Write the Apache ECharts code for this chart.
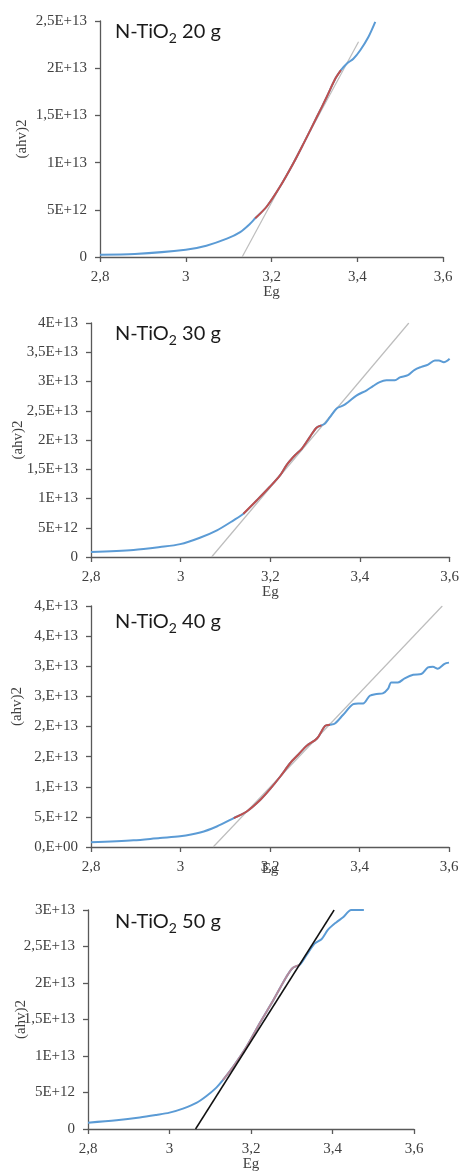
<!DOCTYPE html>
<html>
<head>
<meta charset="utf-8">
<script src="https://cdn.jsdelivr.net/npm/echarts@6/dist/echarts.min.js"></script>
<style>html,body{margin:0;padding:0;background:#fff;}#c{width:462px;height:1174px;}</style>
</head>
<body>
<div id="c"></div>
<script>
// ---------- data ----------
const xTickLabels = ['2,8', '3', '3,2', '3,4', '3,6'];
const yLabels20 = ['0', '5E+12', '1E+13', '1,5E+13', '2E+13', '2,5E+13'];
const yLabels30 = ['0', '5E+12', '1E+13', '1,5E+13', '2E+13', '2,5E+13', '3E+13', '3,5E+13', '4E+13'];
const yLabels40 = ['0,E+00', '5,E+12', '1,E+13', '2,E+13', '2,E+13', '3,E+13', '3,E+13', '4,E+13', '4,E+13'];
const yLabels50 = ['0', '5E+12', '1E+13', '1,5E+13', '2E+13', '2,5E+13', '3E+13'];
const titles = ['20 g', '30 g', '40 g', '50 g'];

const eg20  = [2.80, 2.881, 3.00, 3.048, 3.096, 3.127, 3.150, 3.162, 3.189, 3.220, 3.251, 3.275, 3.306, 3.329, 3.349, 3.362, 3.376, 3.391, 3.407, 3.426, 3.442];
const ahv20 = [0.25e12, 0.32e12, 0.77e12, 1.2e12, 1.94e12, 2.64e12, 3.52e12, 4.1e12, 5.35e12, 7.46e12, 9.93e12, 12.04e12, 14.85e12, 16.97e12, 18.9e12, 19.8e12, 20.5e12, 21.0e12, 21.9e12, 23.3e12, 24.9e12];
const fitRange20 = [3.162, 3.362];
const tangent20 = [[3.1315, 0], [3.403, 2.28e13]];

const eg30  = [2.80, 2.895, 2.954, 2.999, 3.043, 3.081, 3.118, 3.140, 3.170, 3.199, 3.222, 3.237, 3.255, 3.270, 3.288, 3.303, 3.314, 3.322, 3.333, 3.348, 3.363, 3.374, 3.392, 3.415, 3.429, 3.444, 3.459, 3.478, 3.489, 3.507, 3.522, 3.537, 3.552, 3.567, 3.576, 3.587, 3.600];
const ahv30 = [0.85e12, 1.2e12, 1.7e12, 2.2e12, 3.3e12, 4.56e12, 6.27e12, 7.4e12, 9.7e12, 12.0e12, 14.0e12, 15.8e12, 17.4e12, 18.5e12, 20.5e12, 22.1e12, 22.5e12, 22.8e12, 23.9e12, 25.4e12, 25.9e12, 26.5e12, 27.6e12, 28.5e12, 29.2e12, 29.9e12, 30.2e12, 30.2e12, 30.7e12, 31.1e12, 32.0e12, 32.5e12, 32.9e12, 33.6e12, 33.6e12, 33.3e12, 33.9e12];
const fitRange30 = [3.14, 3.314];
const tangent30 = [[3.069, 0], [3.509, 4.0e13]];

const eg40  = [2.80, 2.895, 2.954, 2.999, 3.044, 3.081, 3.119, 3.148, 3.178, 3.200, 3.223, 3.245, 3.264, 3.282, 3.305, 3.323, 3.334, 3.345, 3.363, 3.386, 3.397, 3.408, 3.423, 3.438, 3.452, 3.464, 3.471, 3.486, 3.501, 3.520, 3.538, 3.553, 3.564, 3.575, 3.590, 3.600];
const ahv40 = [0.77e12, 1.1e12, 1.5e12, 1.77e12, 2.4e12, 3.4e12, 4.8e12, 5.9e12, 7.8e12, 9.6e12, 11.7e12, 13.9e12, 15.4e12, 16.8e12, 18.0e12, 20.1e12, 20.3e12, 20.5e12, 21.9e12, 23.7e12, 23.8e12, 23.8e12, 25.1e12, 25.4e12, 25.5e12, 26.3e12, 27.3e12, 27.3e12, 28.0e12, 28.6e12, 28.7e12, 29.8e12, 29.9e12, 29.6e12, 30.4e12, 30.6e12];
const fitRange40 = [3.119, 3.334];
const tangent40 = [[3.073, 0], [3.585, 4.0e13]];

const eg50  = [2.80, 2.870, 2.927, 2.968, 3.000, 3.033, 3.066, 3.090, 3.115, 3.131, 3.156, 3.189, 3.221, 3.254, 3.287, 3.303, 3.319, 3.336, 3.356, 3.373, 3.389, 3.409, 3.426, 3.446, 3.477];
const ahv50 = [0.87e12, 1.19e12, 1.56e12, 1.92e12, 2.24e12, 2.79e12, 3.57e12, 4.48e12, 5.67e12, 6.68e12, 8.5e12, 11.25e12, 14.46e12, 17.57e12, 20.86e12, 22.1e12, 22.46e12, 23.8e12, 25.4e12, 26.0e12, 27.3e12, 28.3e12, 29.0e12, 30.0e12, 30.0e12];
const fitRange50 = [3.131, 3.319];
const tangent50 = [[3.064, 0], [3.404, 3.0e13]];

// ---------- layout ----------
const panels = [
  {eg: eg20, ahv: ahv20, fit: fitRange20, tan: tangent20, yl: yLabels20, ymax: 2.5e13, grid: {left: 100, top: 21, width: 343, height: 236}, yGap: 70, xGap: 28, tanColor: '#bdbdbd', fitColor: '#c0504d', titleTop: 19},
  {eg: eg30, ahv: ahv30, fit: fitRange30, tan: tangent30, yl: yLabels30, ymax: 4e13, grid: {left: 91, top: 323, width: 359, height: 234}, yGap: 65, xGap: 28, tanColor: '#bdbdbd', fitColor: '#c0504d', titleTop: 321},
  {eg: eg40, ahv: ahv40, fit: fitRange40, tan: tangent40, yl: yLabels40, ymax: 4e13, grid: {left: 91, top: 606, width: 358, height: 241}, yGap: 66, xGap: 15, tanColor: '#bdbdbd', fitColor: '#c0504d', titleTop: 609, nameShift: 40},
  {eg: eg50, ahv: ahv50, fit: fitRange50, tan: tangent50, yl: yLabels50, ymax: 3e13, grid: {left: 88, top: 910, width: 326, height: 219}, yGap: 59, xGap: 28, tanColor: '#111111', fitColor: '#b58a9a', titleTop: 909}
];

const serif = '"Liberation Serif", "DejaVu Serif", serif';
const sans = 'Lato, "Open Sans", sans-serif';
const axisColor = '#595959';
const labelColor = '#404040';

const option = {animation: false, grid: [], xAxis: [], yAxis: [], series: [], title: []};

panels.forEach((p, i) => {
  option.grid.push(p.grid);
  option.xAxis.push({
    type: 'value', gridIndex: i, min: 2.8, max: 3.6, interval: 0.2,
    name: 'Eg', nameLocation: 'middle', nameGap: p.xGap, nameMoveOverlap: false,
    nameTextStyle: {fontFamily: serif, fontSize: 15, color: labelColor},
    axisLine: {show: true, onZero: false, lineStyle: {color: axisColor, width: 1.3}},
    axisTick: {show: true, length: 5, lineStyle: {color: axisColor, width: 1.3}},
    axisLabel: {margin: 13, fontFamily: serif, fontSize: 15, color: labelColor,
      formatter: v => xTickLabels[Math.round((v - 2.8) / 0.2)]},
    splitLine: {show: false}
  });
  option.yAxis.push({
    type: 'value', gridIndex: i, min: 0, max: p.ymax, interval: 5e12,
    name: '(ahv)2', nameLocation: 'middle', nameGap: p.yGap, nameMoveOverlap: false,
    nameTextStyle: {fontFamily: serif, fontSize: 15, color: labelColor,
      padding: p.nameShift ? [0, 0, 0, p.nameShift] : 0},
    axisLine: {show: true, lineStyle: {color: axisColor, width: 1.3}},
    axisTick: {show: true, length: 5, lineStyle: {color: axisColor, width: 1.3}},
    axisLabel: {margin: 13, fontFamily: serif, fontSize: 15, color: labelColor,
      formatter: v => p.yl[Math.round(v / 5e12)]},
    splitLine: {show: false}
  });
  const full = p.eg.map((x, k) => [x, p.ahv[k]]);
  const fitPts = full.filter(d => d[0] >= p.fit[0] - 1e-9 && d[0] <= p.fit[1] + 1e-9);
  option.series.push({
    type: 'line', xAxisIndex: i, yAxisIndex: i, data: full, showSymbol: false, smooth: 0.3,
    lineStyle: {color: '#5b9bd5', width: 2}, z: 2
  });
  option.series.push({
    type: 'line', xAxisIndex: i, yAxisIndex: i, data: fitPts, showSymbol: false, smooth: 0.3,
    lineStyle: {color: p.fitColor, width: 2}, z: 3
  });
  option.series.push({
    type: 'line', xAxisIndex: i, yAxisIndex: i, data: p.tan, showSymbol: false,
    lineStyle: {color: p.tanColor, width: i === 3 ? 1.5 : 1.2}, z: i === 3 ? 4 : 1
  });
  option.title.push({
    left: 115, top: p.titleTop, padding: 0,
    text: '{a|N-TiO}{s|2}{a| ' + titles[i] + '}',
    textStyle: {
      rich: {
        a: {fontFamily: sans, fontSize: 20, fontWeight: 'normal', color: '#1a1a1a', lineHeight: 26, verticalAlign: 'middle'},
        s: {fontFamily: sans, fontSize: 14, fontWeight: 'normal', color: '#1a1a1a', lineHeight: 14, verticalAlign: 'bottom'}
      }
    }
  });
});

const chart = echarts.init(document.getElementById('c'), null, {renderer: 'canvas'});
chart.setOption(option);
</script>
</body>
</html>
